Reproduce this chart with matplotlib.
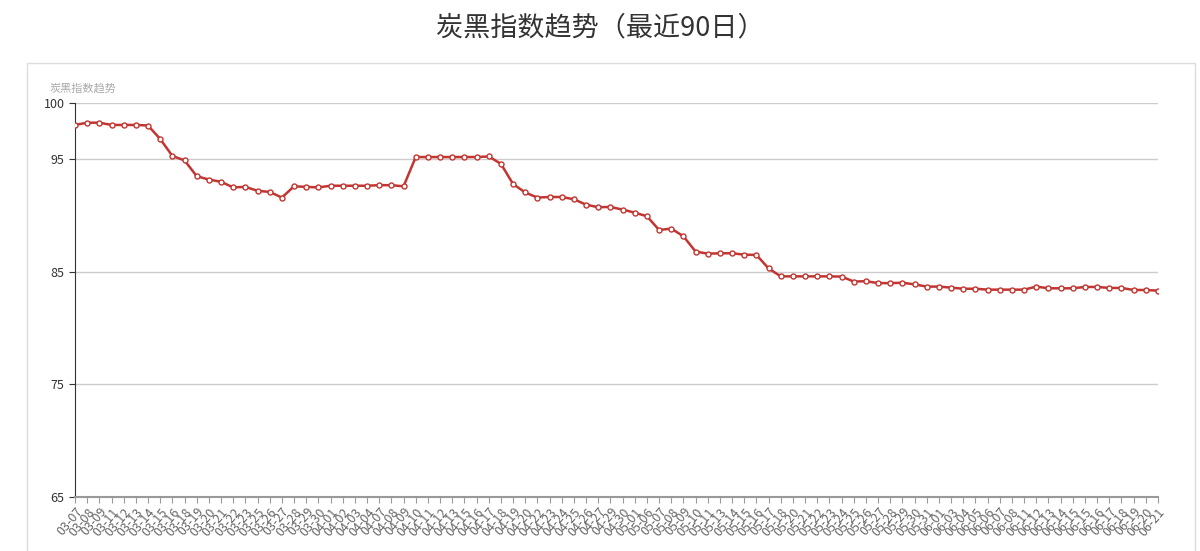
import matplotlib
matplotlib.use('Agg')
import matplotlib.pyplot as plt
from matplotlib.patches import Rectangle

plt.rcParams['font.family'] = ['Noto Sans CJK SC', 'DejaVu Sans']

# Dates (category axis) and index values
dates = ['03-07', '03-08', '03-09', '03-11', '03-12', '03-13', '03-14', '03-15', '03-16', '03-18',
         '03-19', '03-20', '03-21', '03-22', '03-23', '03-25', '03-26', '03-27', '03-28', '03-29',
         '03-30', '04-01', '04-02', '04-03', '04-04', '04-07', '04-08', '04-09', '04-10', '04-11',
         '04-12', '04-13', '04-15', '04-16', '04-17', '04-18', '04-19', '04-20', '04-22', '04-23',
         '04-24', '04-25', '04-26', '04-27', '04-29', '04-30', '05-01', '05-06', '05-07', '05-08',
         '05-09', '05-10', '05-11', '05-13', '05-14', '05-15', '05-16', '05-17', '05-18', '05-20',
         '05-21', '05-22', '05-23', '05-24', '05-25', '05-26', '05-27', '05-28', '05-29', '05-30',
         '05-31', '06-01', '06-03', '06-04', '06-05', '06-06', '06-07', '06-08', '06-11', '06-12',
         '06-13', '06-14', '06-15', '06-15', '06-16', '06-17', '06-18', '06-19', '06-20', '06-21']

values = [98.05, 98.25, 98.25, 98.05, 98.05, 98.05, 98.0, 96.8, 95.3, 94.9,
          93.5, 93.2, 93.0, 92.5, 92.55, 92.2, 92.1, 91.6, 92.6, 92.55,
          92.5, 92.65, 92.65, 92.65, 92.65, 92.7, 92.7, 92.6, 95.2, 95.2,
          95.2, 95.2, 95.2, 95.2, 95.25, 94.6, 92.8, 92.05, 91.6, 91.65,
          91.65, 91.45, 90.97, 90.74, 90.77, 90.53, 90.26, 89.94, 88.72, 88.84,
          88.16, 86.8, 86.62, 86.65, 86.65, 86.53, 86.5, 85.3, 84.6, 84.6,
          84.6, 84.6, 84.6, 84.58, 84.14, 84.17, 84.0, 84.0, 84.03, 83.89,
          83.69, 83.69, 83.6, 83.5, 83.5, 83.42, 83.42, 83.42, 83.42, 83.69,
          83.54, 83.54, 83.54, 83.66, 83.66, 83.57, 83.57, 83.39, 83.39, 83.33]

y_ticks = [65, 75, 85, 95, 100]

fig = plt.figure(figsize=(12, 5.51), dpi=100)

# light border box around the chart area
fig.patches.append(Rectangle((27 / 1200, -0.01), (1195 - 27) / 1200, 1 - 63 / 551 + 0.01,
                             transform=fig.transFigure, fill=False, edgecolor='#dddddd', lw=1))

fig.text(0.5, 1 - 28 / 551, '炭黑指数趋势（最近90日）', ha='center', va='center',
         fontsize=19.5, color='#333333')

ax = fig.add_axes([75 / 1200, 1 - 497 / 551, (1158 - 75) / 1200, (497 - 103) / 551])

x = list(range(len(dates)))
ax.plot(x, values, color='#c23531', lw=1.8, marker='o', markersize=3.6,
        markerfacecolor='white', markeredgecolor='#c23531', markeredgewidth=1, zorder=3)

ax.set_xlim(0, len(dates) - 1)
ax.set_ylim(65, 100)
ax.set_yticks(y_ticks)
ax.set_yticklabels([str(v) for v in y_ticks])
ax.set_xticks(x)
ax.set_xticklabels(dates, rotation=50, ha='right', rotation_mode='anchor',
                   fontsize=9, color='#666666')

for v in y_ticks[1:]:
    ax.axhline(v, color='#cccccc', lw=1, zorder=1)

for s in ['top', 'right']:
    ax.spines[s].set_visible(False)
ax.spines['left'].set_color('#333333')
ax.spines['bottom'].set_color('#999999')
ax.spines['bottom'].set_linewidth(1.5)
ax.tick_params(axis='y', colors='#333333', labelsize=9, length=4)
ax.tick_params(axis='x', colors='#999999', length=4, pad=2)
for lbl in ax.get_xticklabels():
    lbl.set_color('#666666')

fig.text(83 / 1200, 1 - 88 / 551, '炭黑指数趋势', ha='center', va='center',
         fontsize=8, color='#aaaaaa')

fig.savefig('out.png', dpi=100)
